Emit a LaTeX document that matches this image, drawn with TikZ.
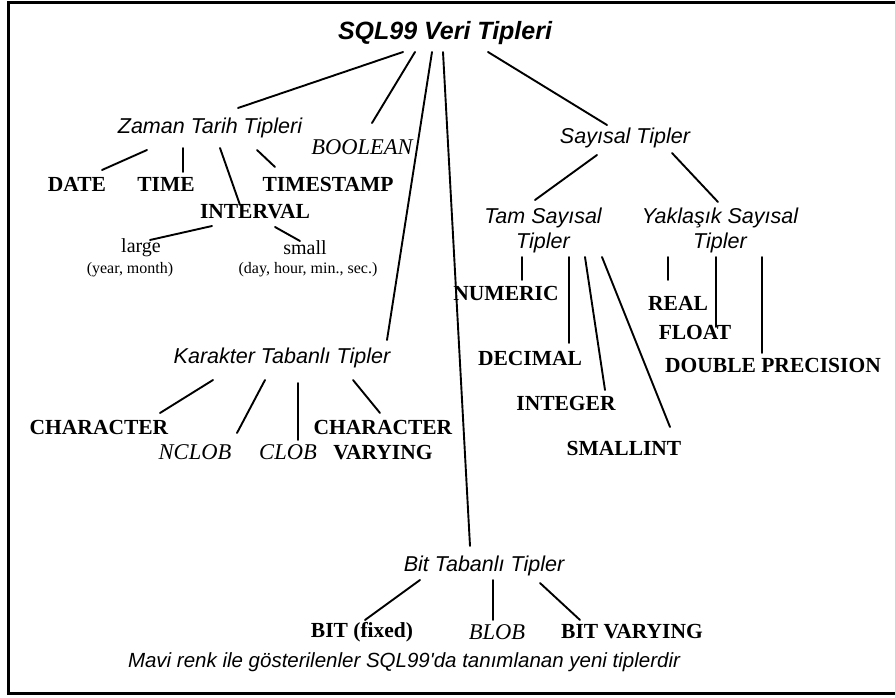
\documentclass[tikz,border=0pt]{standalone}
\usepackage{fontspec}
\setmainfont{Liberation Serif}
\setsansfont{Liberation Sans}
% plain family without TeX quote mapping, so ' stays straight
\newfontfamily\notefont{Liberation Sans}
\begin{document}
\begin{tikzpicture}[x=1pt,y=-1pt,
  every node/.style={inner sep=0pt,outer sep=0pt},
  heading/.style={font=\sffamily\bfseries\itshape\fontsize{25}{29}\selectfont},
  group/.style={font=\sffamily\itshape\fontsize{21.5}{25}\selectfont,align=center},
  oldtype/.style={font=\bfseries\fontsize{21.5}{25}\selectfont,align=center},
  newtype/.style={font=\itshape\fontsize{22.5}{25}\selectfont},
  plain/.style={font=\fontsize{20}{24}\selectfont},
  detail/.style={font=\fontsize{16}{20}\selectfont},
  note/.style={font=\notefont\itshape\fontsize{20.5}{24}\selectfont,anchor=west},
  link/.style={line width=1.9pt,line cap=round},
  frame/.style={line width=3pt}]
\useasboundingbox (0,0) rectangle (895,698);
\newcommand\lnk[6]{\draw[link] ([shift={(#2,#3)}]#1.center) -- ([shift={(#5,#6)}]#4.center);}

% outer frame (open on the right)
\draw[frame] (895,3) -- (8,3) -- (8,693) -- (895,693);

% root
\node[heading] (root) at (445,33) {SQL99 Veri Tipleri};

% date and time branch
\node[group] (zaman) at (210,128) {Zaman Tarih Tipleri};
\node[oldtype] (date) at (77,184) {DATE};
\node[oldtype] (tm) at (166,184) {TIME};
\node[oldtype] (tstamp) at (328,184) {TIMESTAMP};
\node[oldtype] (interval) at (255,212) {INTERVAL};
\node[plain] (large) at (141,248) {large};
\node[detail] (largenote) at (130,270) {(year, month)};
\node[plain] (small) at (305,248) {small};
\node[detail] (smallnote) at (308,270) {(day, hour, min., sec.)};

% boolean
\node[newtype] (bool) at (362,147) {BOOLEAN};

% numeric branch
\node[group] (sayisal) at (625,138) {Sayısal Tipler};
\node[group] (tam) at (543,230) {Tam Sayısal\\Tipler};
\node[group] (yak) at (720,230) {Yaklaşık Sayısal\\Tipler};
\node[oldtype] (numeric) at (506,293) {NUMERIC};
\node[oldtype] (decimal) at (530,358) {DECIMAL};
\node[oldtype] (integer) at (566,403) {INTEGER};
\node[oldtype] (smallint) at (624,448) {SMALLINT};
\node[oldtype] (real) at (678,303) {REAL};
\node[oldtype] (float) at (695,332) {FLOAT};
\node[oldtype] (double) at (773,365) {DOUBLE PRECISION};

% character branch
\node[group] (karakter) at (282,358) {Karakter Tabanlı Tipler};
\node[oldtype] (character) at (99,427) {CHARACTER};
\node[newtype] (nclob) at (195,452) {NCLOB};
\node[newtype] (clob) at (288,452) {CLOB};
\node[oldtype] (charvar) at (383,440) {CHARACTER\\VARYING};

% bit branch
\node[group] (bit) at (484,566) {Bit Tabanlı Tipler};
\node[oldtype] (bitfixed) at (362,632) {BIT (fixed)};
\node[newtype] (blob) at (497,632) {BLOB};
\node[oldtype] (bitvar) at (632,632) {BIT VARYING};

% footnote
\node[note] (legend) at (128,662) {Mavi renk ile gösterilenler SQL99'da tanımlanan yeni tiplerdir};

% connectors from the root
\lnk{root}{-42}{19}{zaman}{28}{-20}
\lnk{root}{-30}{19}{bool}{10}{-24}
\lnk{root}{-13}{19}{karakter}{105}{-18}
\lnk{root}{-2}{19}{bit}{-14}{-20}
\lnk{root}{43}{19}{sayisal}{-18}{-13}

% date and time connectors
\lnk{zaman}{-63}{22}{date}{25}{-14}
\lnk{zaman}{-27}{20}{tm}{17}{-12}
\lnk{zaman}{10}{20}{interval}{-15}{-7}
\lnk{zaman}{47}{22}{tstamp}{-53}{-17}
\lnk{interval}{-43}{14}{large}{9}{-8}
\lnk{interval}{20}{15}{small}{-5}{-7}

% numeric connectors
\lnk{sayisal}{-28}{17}{tam}{-8}{-30}
\lnk{sayisal}{47}{15}{yak}{-2}{-28}
\lnk{tam}{-21}{27}{numeric}{16}{-13}
\lnk{tam}{26}{27}{decimal}{39}{-15}
\lnk{tam}{42}{27}{integer}{39}{-13}
\lnk{tam}{59}{27}{smallint}{46}{-21}
\lnk{yak}{-52}{27}{real}{-10}{-23}
\lnk{yak}{-4}{27}{float}{21}{-5}
\lnk{yak}{42}{27}{double}{-11}{-12}

% character connectors
\lnk{karakter}{-69}{22}{character}{61}{-14}
\lnk{karakter}{-17}{22}{nclob}{42}{-19}
\lnk{karakter}{16}{25}{clob}{10}{-12}
\lnk{karakter}{71}{22}{charvar}{-3}{-27}

% bit connectors
\lnk{bit}{-64}{14}{bitfixed}{3}{-12}
\lnk{bit}{9}{14}{blob}{-4}{-12}
\lnk{bit}{56}{17}{bitvar}{-52}{-12}
\end{tikzpicture}
\end{document}
